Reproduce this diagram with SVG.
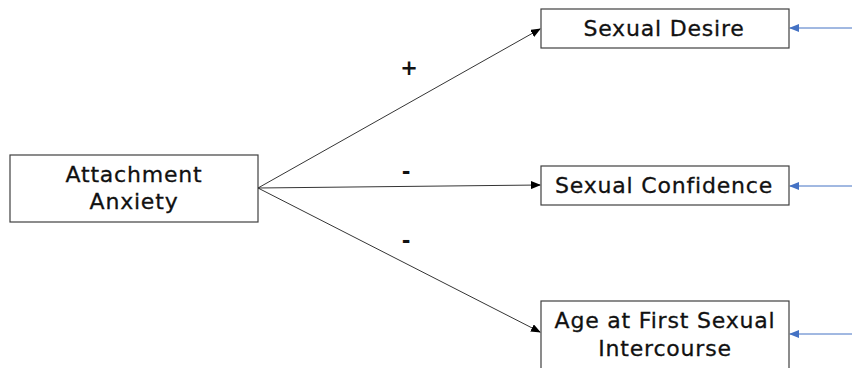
<svg xmlns="http://www.w3.org/2000/svg" width="852" height="368" viewBox="0 0 852 368">
<style>
.box{fill:#fff;stroke:#404040;stroke-width:1.2}
.t{font-family:"DejaVu Sans","Open Sans",sans-serif;font-size:22px;letter-spacing:0.8px;fill:#111;stroke:#111;stroke-width:0.3;text-anchor:middle}
.s{font-family:"DejaVu Sans","Open Sans",sans-serif;font-size:21px;font-weight:bold;fill:#111;text-anchor:middle}
.ln{stroke:#000;stroke-width:0.8;fill:none}
.bl{stroke:#4472c4;stroke-width:1;fill:none}
</style>
<defs>
<marker id="ak" markerWidth="10" markerHeight="8" refX="9" refY="4" orient="auto" markerUnits="userSpaceOnUse"><path d="M0,0 L10,4 L0,8 Z" fill="#000"/></marker>
<marker id="ab" markerWidth="10" markerHeight="8" refX="9" refY="4" orient="auto" markerUnits="userSpaceOnUse"><path d="M0,0 L10,4 L0,8 Z" fill="#4472c4"/></marker>
</defs>
<rect width="852" height="368" fill="#fff"/>
<g id="connectors">
<line class="ln" x1="258" y1="188" x2="540" y2="29" marker-end="url(#ak)"/>
<line class="ln" x1="258" y1="188" x2="540" y2="185" marker-end="url(#ak)"/>
<line class="ln" x1="258" y1="188" x2="540" y2="332" marker-end="url(#ak)"/>
<line class="bl" x1="852" y1="28" x2="790" y2="28" marker-end="url(#ab)"/>
<line class="bl" x1="852" y1="186" x2="790" y2="186" marker-end="url(#ab)"/>
<line class="bl" x1="852" y1="334" x2="790" y2="334" marker-end="url(#ab)"/>
<text class="s" x="409" y="75">+</text>
<text class="s" x="406" y="179">-</text>
<text class="s" x="406" y="248">-</text>
</g>
<g id="attachment-anxiety">
<rect class="box" x="10" y="155" width="248" height="67"/>
<text class="t" x="134" y="182">Attachment</text>
<text class="t" x="134" y="209">Anxiety</text>
</g>
<g id="sexual-desire">
<rect class="box" x="541" y="9" width="248" height="39"/>
<text class="t" x="664" y="36">Sexual Desire</text>
</g>
<g id="sexual-confidence">
<rect class="box" x="541" y="166" width="248" height="39"/>
<text class="t" x="664" y="193">Sexual Confidence</text>
</g>
<g id="age-first-intercourse">
<rect class="box" x="541" y="301" width="248" height="80"/>
<text class="t" x="665" y="328">Age at First Sexual</text>
<text class="t" x="665" y="356">Intercourse</text>
</g>
</svg>
